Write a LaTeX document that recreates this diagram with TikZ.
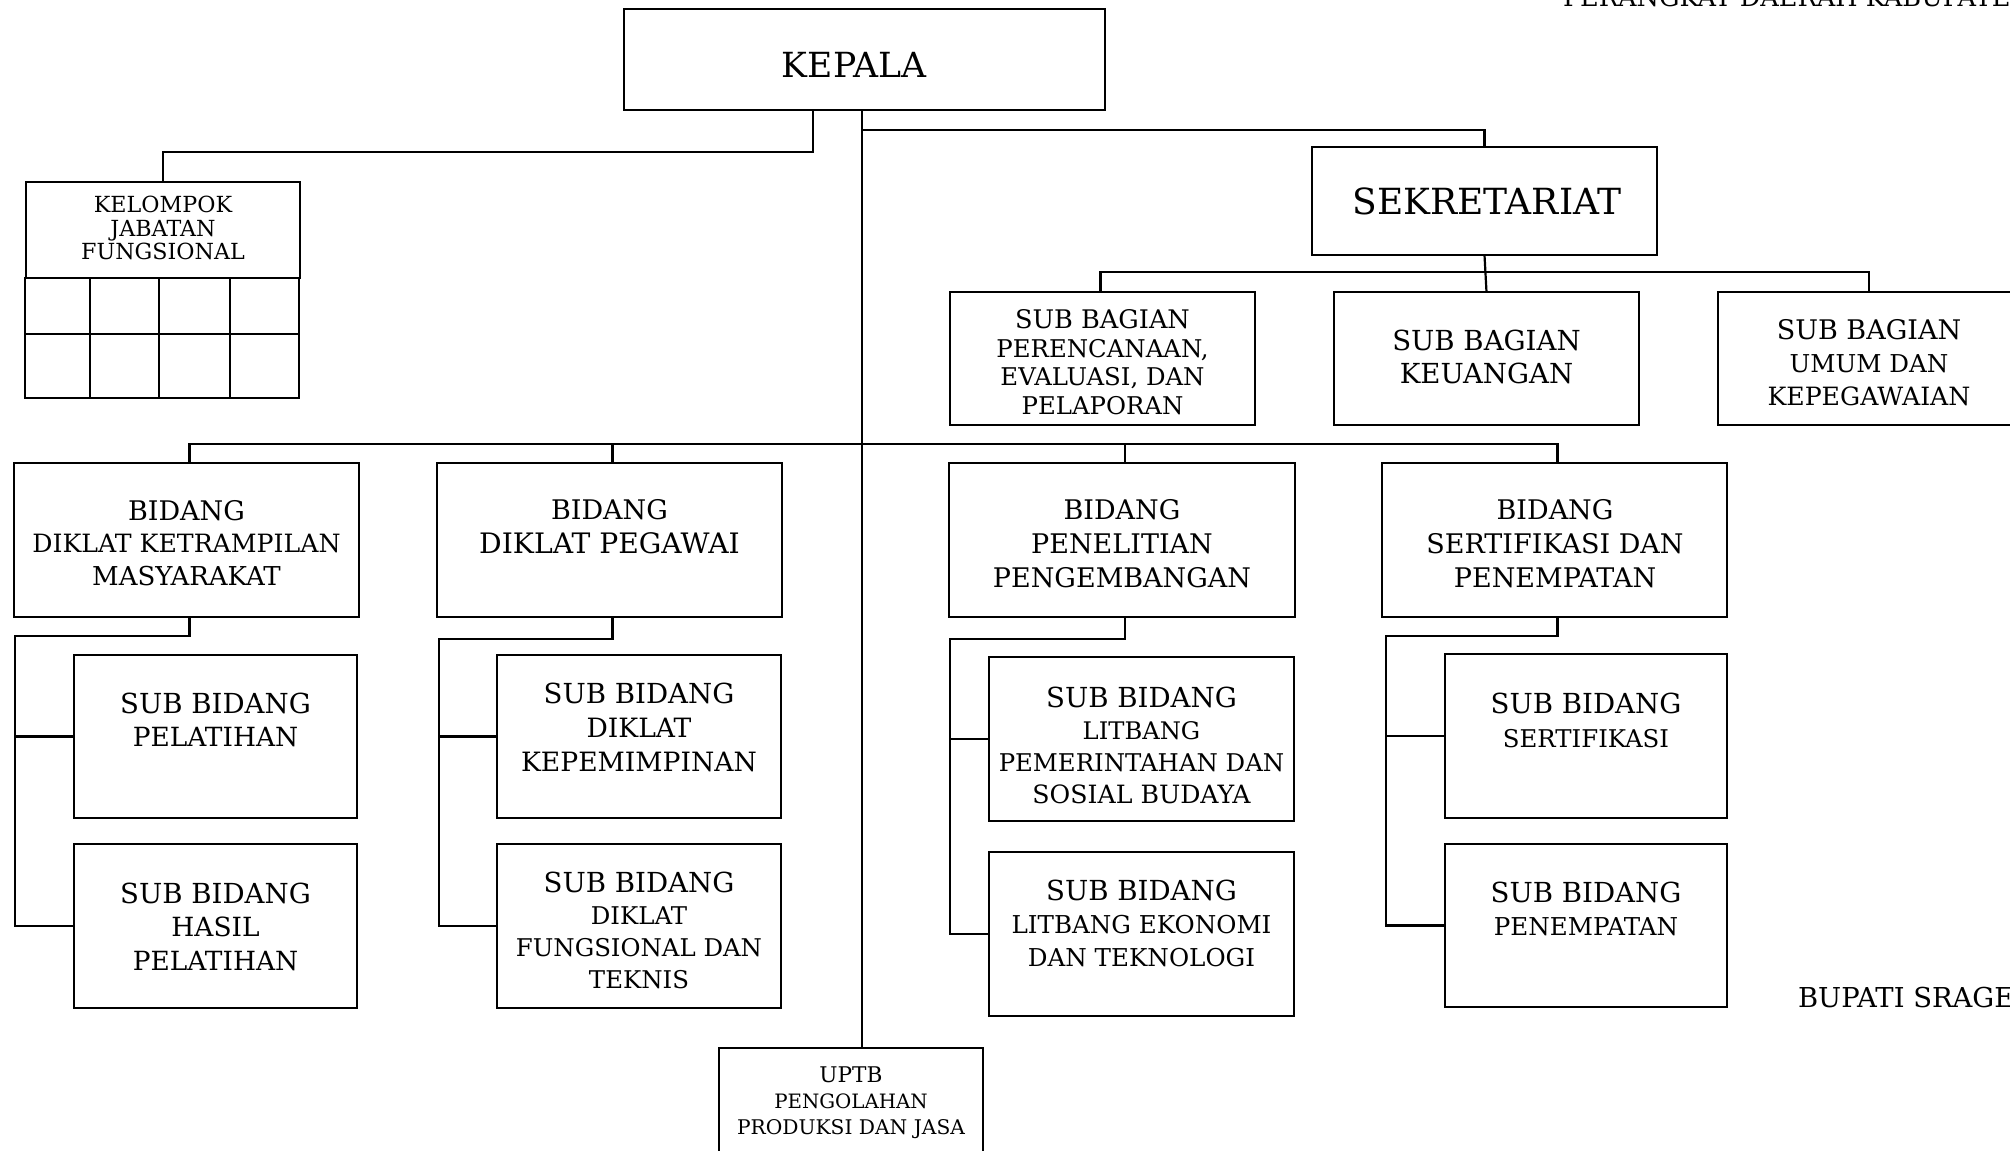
\documentclass[tikz,border=0pt]{standalone}
\usepackage{fontspec}
\setmainfont{DejaVu Serif}
\newcommand\fsz[2]{\fontsize{#1pt}{#2pt}\selectfont}
\newcommand\mkbox[5]{\node[bx, minimum width={(#4-#2)*0.5pt}, minimum height={(#5-#3)*0.5pt}] (#1) at ({(#2+#4)/2},{(#3+#5)/2}) {};}
\tikzset{
  bx/.style={draw, line width=1.3pt, fill=white, inner sep=0pt, outer sep=0pt},
  ln/.style={line width=1.1pt},
  bar/.style={line width=1.4pt},
  txt/.style={align=center, inner sep=0pt, outer sep=0pt},
}
\begin{document}
\begin{tikzpicture}[x=0.5pt,y=-0.5pt]
\useasboundingbox (0,0) rectangle (2010,1151);
\fill[white] (0,0) rectangle (2010,1151);
\begin{scope}
\clip (0,0) rectangle (2010,1151);
% boxes
\mkbox{kepala}{624}{9}{1105}{110}
\mkbox{sek}{1312}{147}{1657}{255}
\mkbox{kjf}{26}{182}{300}{278}
\draw[line width=1.3pt] (25,278) rectangle (299,398) (25,334) -- (299,334)
  (90,278) -- (90,398) (159,278) -- (159,398) (230,278) -- (230,398);
\mkbox{sba}{950}{292}{1255}{425}
\mkbox{sbb}{1334}{292}{1639}{425}
\mkbox{sbc}{1718}{292}{2020}{425}
\mkbox{b1}{14}{463}{359}{617}
\mkbox{b2}{437}{463}{782}{617}
\mkbox{b3}{949}{463}{1295}{617}
\mkbox{b4}{1382}{463}{1727}{617}
\mkbox{s1}{74}{655}{357}{818}
\mkbox{s2}{74}{844}{357}{1008}
\mkbox{s3}{497}{655}{781}{818}
\mkbox{s4}{497}{844}{781}{1008}
\mkbox{s5}{989}{657}{1294}{821}
\mkbox{s6}{989}{852}{1294}{1016}
\mkbox{s7}{1445}{654}{1727}{818}
\mkbox{s8}{1445}{844}{1727}{1007}
\mkbox{uptb}{719}{1048}{983}{1175}
% connectors
\coordinate (tr) at (862,0);
\draw[ln] (kepala.south -| tr) -- (uptb.north -| tr);
\coordinate (kj) at (813,152);
\draw[ln] (kepala.south -| kj) -- (kj) -| (kjf.north);
\coordinate (j1) at (862,130);
\draw[ln] (j1) -| (sek.north);
\draw[ln] (sek.south) -- (sbb.north);
\draw[ln] ([xshift=-1pt]sba.north) -- ++(0,-20) -| (sbc.north);
\draw[bar] ([xshift=1.5pt]b1.north) -- ++(0,-19) -| ([xshift=1.5pt]b4.north);
\draw[ln] ([xshift=1.5pt]b2.north) -- ++(0,-19);
\draw[ln] ([xshift=1.5pt]b3.north) -- ++(0,-19);
\coordinate (v1) at (15,636);
\coordinate (v2) at (439,639);
\coordinate (v3) at (950,639);
\coordinate (v4) at (1386,636);
\draw[ln] ([xshift=1.5pt]b1.south) |- (v1) |- (s2.west);
\draw[ln] (s1.west) -- (s1.west -| v1);
\draw[ln] ([xshift=1.5pt]b2.south) |- (v2) |- (s4.west);
\draw[ln] (s3.west) -- (s3.west -| v2);
\draw[ln] ([xshift=1.5pt]b3.south) |- (v3) |- (s6.west);
\draw[ln] (s5.west) -- (s5.west -| v3);
\draw[ln] ([xshift=1.5pt]b4.south) |- (v4) |- (s8.west);
\draw[ln] (s7.west) -- (s7.west -| v4);
% texts
\node[txt, font=\fsz{17.3}{20}] (kepala-t) at (854,65) {KEPALA};
\node[txt, font=\fsz{18}{20}] (sek-t) at (1487,201) {SEKRETARIAT};
\node[txt, font=\fsz{11.1}{11.9}] (kjf-t) at (163,228) {KELOMPOK\\JABATAN\\FUNGSIONAL};
\node[txt, font=\fsz{12.2}{14.3}] (sba-t) at (1102.5,362) {{\fsz{12.8}{14.3}SUB BAGIAN}\\PERENCANAAN,\\EVALUASI, DAN\\PELAPORAN};
\node[txt, font=\fsz{13.8}{16.5}] (sbb-t) at (1486.5,356.5) {SUB BAGIAN\\KEUANGAN};
\node[txt, font=\fsz{12.3}{16.5}] (sbc-t) at (1869,363) {{\fsz{13.5}{16.5}SUB BAGIAN}\\UMUM DAN\\{\fsz{12.6}{16.5}KEPEGAWAIAN}};
\node[txt, font=\fsz{12.6}{16.25}] (b1-t) at (186.5,543) {{\fsz{13.5}{16.25}BIDANG}\\DIKLAT KETRAMPILAN\\{\fsz{13}{16.25}MASYARAKAT}};
\node[txt, font=\fsz{13.5}{17}] (b2-t) at (609.5,527) {BIDANG\\{\fsz{14.1}{17}DIKLAT PEGAWAI}};
\node[txt, font=\fsz{13.5}{17}] (b3-t) at (1122,544) {BIDANG\\PENELITIAN\\PENGEMBANGAN};
\node[txt, font=\fsz{13.5}{17}] (b4-t) at (1555,544) {BIDANG\\SERTIFIKASI DAN\\PENEMPATAN};
\node[txt, font=\fsz{13.2}{16.75}] (s1-t) at (215.5,720) {{\fsz{13.8}{16.75}SUB BIDANG}\\PELATIHAN};
\node[txt, font=\fsz{13.2}{16.75}] (s2-t) at (215.5,926.5) {{\fsz{13.8}{16.75}SUB BIDANG}\\HASIL\\PELATIHAN};
\node[txt, font=\fsz{13.3}{17}] (s3-t) at (639,727) {{\fsz{13.8}{17}SUB BIDANG}\\DIKLAT\\KEPEMIMPINAN};
\node[txt, font=\fsz{12.2}{16}] (s4-t) at (639,930.3) {{\fsz{13.8}{16}SUB BIDANG}\\DIKLAT\\FUNGSIONAL DAN\\TEKNIS};
\node[txt, font=\fsz{12.1}{16.1}] (s5-t) at (1141.5,745.3) {{\fsz{13.8}{16.1}SUB BIDANG}\\LITBANG\\{\fsz{12.2}{16.1}PEMERINTAHAN DAN}\\{\fsz{12.6}{16.1}SOSIAL BUDAYA}};
\node[txt, font=\fsz{12.3}{16.6}] (s6-t) at (1141.5,923.5) {{\fsz{13.8}{16.6}SUB BIDANG}\\LITBANG EKONOMI\\DAN TEKNOLOGI};
\node[txt, font=\fsz{12.2}{17}] (s7-t) at (1586,720) {{\fsz{13.8}{17}SUB BIDANG}\\SERTIFIKASI};
\node[txt, font=\fsz{12.3}{16.6}] (s8-t) at (1586,909) {{\fsz{13.8}{16.6}SUB BIDANG}\\PENEMPATAN};
\node[txt, font=\fsz{9.9}{13}] (uptb-t) at (851,1103) {{\fsz{10.8}{13}UPTB}\\PENGOLAHAN\\{\fsz{10.1}{13}PRODUKSI DAN JASA}};
\node[txt, font=\fsz{13.7}{16}, anchor=west] (bupati) at (1798,998) {BUPATI SRAGEN};
\node[txt, font=\fsz{12.8}{15}, anchor=base west] (perda) at (1563,6) {PERANGKAT DAERAH KABUPATEN};
\end{scope}
\end{tikzpicture}
\end{document}
